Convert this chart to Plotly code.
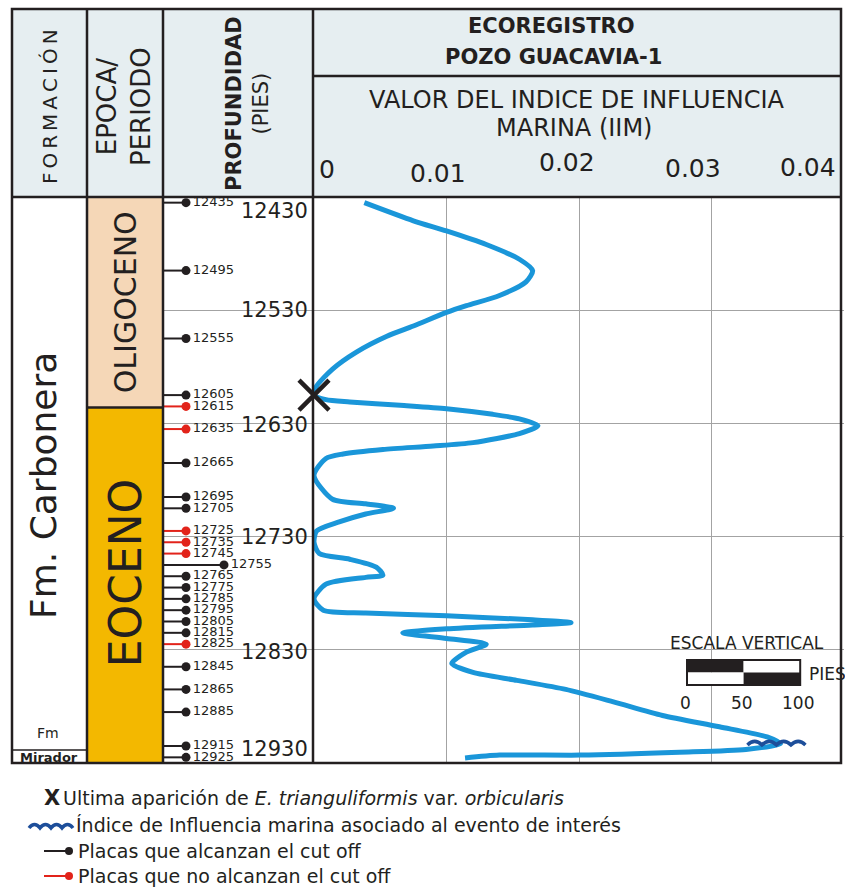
import plotly.graph_objects as go

W, H = 845, 888


def px(x):
    return x / W


def py(y):
    return 1 - y / H


# ---------------- data ----------------
iim_depth = [12435, 12451, 12460, 12472, 12485, 12495, 12505, 12517, 12526, 12532,
             12544, 12553, 12567, 12582, 12597, 12605, 12609, 12611, 12614, 12617,
             12622, 12626, 12632, 12639, 12647, 12650, 12653, 12657, 12661, 12676,
             12697, 12701, 12705, 12710, 12717, 12725, 12735, 12745, 12750, 12757,
             12764, 12766, 12772, 12785, 12795, 12797.5, 12800, 12803.5, 12806, 12808,
             12811.5, 12815, 12820, 12825, 12832, 12842, 12850, 12857, 12865, 12876,
             12888, 12898, 12907, 12913, 12918, 12920.5, 12923, 12923, 12925.5]
iim_value = [0.0038, 0.0075, 0.0100, 0.0130, 0.0155, 0.0165, 0.0160, 0.0140, 0.0115, 0.0100,
             0.0075, 0.0055, 0.0032, 0.0014, 0.0002, 0.0000, 0.0009, 0.0027, 0.0065, 0.0100,
             0.0135, 0.0155, 0.0169, 0.0155, 0.0120, 0.0090, 0.0052, 0.0022, 0.0009, 0.0000,
             0.0014, 0.0039, 0.0060, 0.0039, 0.0019, 0.0002, 0.0000, 0.0004, 0.0027, 0.0047,
             0.0052, 0.0039, 0.0009, 0.0000, 0.0007, 0.0039, 0.0100, 0.0165, 0.0194, 0.0165,
             0.0100, 0.0067, 0.0100, 0.0130, 0.0115, 0.0104, 0.0120, 0.0153, 0.0190, 0.0226,
             0.0263, 0.0306, 0.0342, 0.0352, 0.0326, 0.0276, 0.0201, 0.0140, 0.0114]

sample_depth = [12435, 12495, 12555, 12605, 12615, 12635, 12665, 12695, 12705, 12725,
                12735, 12745, 12755, 12765, 12775, 12785, 12795, 12805, 12815, 12825,
                12845, 12865, 12885, 12915, 12925]
sample_reaches_cutoff = [True, True, True, True, False, False, True, True, True, False,
                         False, False, True, True, True, True, True, True, True, False,
                         True, True, True, True, True]

depth_ticks = [12430, 12530, 12630, 12730, 12830, 12930]
depth_tick_labels = ["12430", "12530", "12630", "12730", "12830", "12930"]
iim_ticks = [0, 0.01, 0.02, 0.03, 0.04]
iim_tick_labels = ["0", "0.01", "0.02", "0.03", "0.04"]

epoch_names = ["OLIGOCENO", "EOCENO"]
epoch_top = [12430, 12616]
epoch_base = [12616, 12930]

last_appearance_depth = 12605
last_appearance_value = 0.0
event_depth = 12914
event_value = 0.0349

scale_values = [0, 50, 100]
scale_labels = ["0", "50", "100"]

# ---------------- styles ----------------
INK = "#231f20"
RED = "#e2231a"
BLUE = "#1a96d9"
DARKBLUE = "#1d4e9a"
GRID = "#a3a3a3"
HEAD_BG = "#e6eef1"
EPOCH_COLORS = ["#f5d7b7", "#f3b800"]
EPOCH_FONT = [30, 44]
EPOCH_YSHIFT = [0, 12]
FONT = "DejaVu Sans"
long_stick_depths = [12755]
tick_label_style = [  # (xanchor, xshift, y pixel)
    ("left", 3, 170), ("center", -9, 173), ("center", -12, 162),
    ("center", -19, 168), ("right", -6, 167)]

TOP, BOT, LEFT, RIGHT = 9, 763, 12, 841
HEAD_BOT, C1, C2, C3 = 197, 87, 163, 313
PX_PER_FT = (BOT - HEAD_BOT) / 500.0

fig = go.Figure()

# main IIM curve
fig.add_trace(go.Scatter(
    x=iim_value, y=iim_depth, mode="lines", xaxis="x", yaxis="y",
    line=dict(color=BLUE, width=5, shape="spline", smoothing=0.7),
    cliponaxis=False, hoverinfo="skip", showlegend=False))

# last appearance X
fig.add_trace(go.Scatter(
    x=[last_appearance_value], y=[last_appearance_depth], mode="markers",
    xaxis="x", yaxis="y",
    marker=dict(symbol="x-thin", size=30, color=INK, line=dict(width=4.5, color=INK)),
    cliponaxis=False, hoverinfo="skip", showlegend=False))

# sample sticks
for reached, color in [(True, INK), (False, RED)]:
    xs, ys, mx, my, mt = [], [], [], [], []
    for d, c in zip(sample_depth, sample_reaches_cutoff):
        if c != reached:
            continue
        L = 61 if d in long_stick_depths else 23
        xs += [0, L, None]
        ys += [d, d, None]
        mx.append(L)
        my.append(d)
        mt.append(str(d))
    fig.add_trace(go.Scatter(x=xs, y=ys, mode="lines", xaxis="x2", yaxis="y",
                             line=dict(color=color, width=2), hoverinfo="skip",
                             showlegend=False))
    fig.add_trace(go.Scatter(x=mx, y=my, mode="markers+text", xaxis="x2", yaxis="y",
                             marker=dict(color=color, size=9), text=mt,
                             textposition="middle right",
                             textfont=dict(family=FONT, size=13, color=INK),
                             hoverinfo="skip", showlegend=False))

shapes = []


def line(x0, y0, x1, y1, w=2.5, color=INK, xref="paper", yref="paper"):
    shapes.append(dict(type="line", xref=xref, yref=yref, x0=x0, y0=y0, x1=x1, y1=y1,
                       line=dict(color=color, width=w), layer="above"))


def pline(x0, y0, x1, y1, w=2.5, color=INK):
    line(px(x0), py(y0), px(x1), py(y1), w, color)


# header background
shapes.append(dict(type="rect", xref="paper", yref="paper", x0=px(LEFT), x1=px(RIGHT),
                   y0=py(HEAD_BOT), y1=py(TOP), fillcolor=HEAD_BG, line=dict(width=0),
                   layer="below"))
# epoch blocks
for name, t, b, col in zip(epoch_names, epoch_top, epoch_base, EPOCH_COLORS):
    shapes.append(dict(type="rect", xref="paper", yref="y", x0=px(C1), x1=px(C2),
                       y0=t, y1=b, fillcolor=col, line=dict(width=0), layer="below"))
line(px(C1), epoch_base[0], px(C2), epoch_base[0], 2.5, INK, "paper", "y")

# frame
shapes.append(dict(type="rect", xref="paper", yref="paper", x0=px(LEFT), x1=px(RIGHT),
                   y0=py(BOT), y1=py(TOP), line=dict(color=INK, width=2.5), layer="above"))
for xc in (C1, C2, C3):
    pline(xc, TOP, xc, BOT)
pline(LEFT, HEAD_BOT, RIGHT, HEAD_BOT)
pline(C3, 76, RIGHT, 76)
pline(LEFT, 750, C1, 750, 1.5)

# event wave on chart (pixel path anchored at data point)
n_b, w_b, h_b = 4, 14.5, 3.5
s = f"M{-n_b * w_b / 2},0"
for i in range(n_b):
    xa = -n_b * w_b / 2 + i * w_b
    s += f" Q{xa + w_b / 2},{2 * h_b} {xa + w_b},0"
shapes.append(dict(type="path", xref="x", yref="y", xsizemode="pixel", ysizemode="pixel",
                   xanchor=event_value, yanchor=event_depth, path=s,
                   line=dict(color=DARKBLUE, width=3.5), layer="above"))


def wave_path(x0, y0, n, w, h):
    p = f"M{px(x0)},{py(y0)}"
    for i in range(n):
        xa = x0 + i * w
        p += f" Q{px(xa + w / 2)},{py(y0 - 2 * h)} {px(xa + w)},{py(y0)}"
    return p


# legend symbols
shapes.append(dict(type="path", xref="paper", yref="paper", path=wave_path(29, 828, 4, 11, 3.5),
                   line=dict(color=DARKBLUE, width=3.5), layer="above"))
for yy, col in [(851, INK), (876, RED)]:
    pline(44, yy, 67, yy, 2, col)
    shapes.append(dict(type="circle", xref="paper", yref="paper",
                       x0=px(65), x1=px(73), y0=py(yy + 4), y1=py(yy - 4),
                       fillcolor=col, line=dict(width=0), layer="above"))

# vertical scale bar
SB_X0, SB_Y0, SB_Y1 = 687, 660, 685
SB_MID = (SB_Y0 + SB_Y1) / 2
for i in range(len(scale_values) - 1):
    xa = SB_X0 + scale_values[i] * PX_PER_FT
    xb = SB_X0 + scale_values[i + 1] * PX_PER_FT
    top_black = (i % 2 == 0)
    shapes.append(dict(type="rect", xref="paper", yref="paper", x0=px(xa), x1=px(xb),
                       y0=py(SB_MID), y1=py(SB_Y0),
                       fillcolor=INK if top_black else "white", line=dict(width=0),
                       layer="above"))
    shapes.append(dict(type="rect", xref="paper", yref="paper", x0=px(xa), x1=px(xb),
                       y0=py(SB_Y1), y1=py(SB_MID),
                       fillcolor="white" if top_black else INK, line=dict(width=0),
                       layer="above"))
shapes.append(dict(type="rect", xref="paper", yref="paper", x0=px(SB_X0),
                   x1=px(SB_X0 + scale_values[-1] * PX_PER_FT), y0=py(SB_Y1), y1=py(SB_Y0),
                   line=dict(color=INK, width=2), layer="above"))

annotations = []


def ann(text, x, y, size, angle=0, xanchor="center", yanchor="middle", color=INK,
        family=FONT, xref="paper", yref="paper", xshift=0, yshift=0):
    annotations.append(dict(text=text, x=x, y=y, xref=xref, yref=yref, showarrow=False,
                            font=dict(family=family, size=size, color=color),
                            textangle=angle, xanchor=xanchor, yanchor=yanchor,
                            xshift=xshift, yshift=yshift, align="center"))


# column headers
ann("\u2009".join("FORMACIÓN"), px(50), py(107), 20, -90)
ann("EPOCA/<br>PERIODO", px(124), py(106), 26, -90)
ann("<b>PROFUNDIDAD</b><br>(PIES)", px(247), py(104), 21, -90)
ann("<b>ECOREGISTRO</b>", px(551), py(26), 21)
ann("<b>POZO GUACAVIA-1</b>", px(553), py(57), 21)
ann("VALOR DEL INDICE DE INFLUENCIA", px(577), py(100), 24)
ann("MARINA (IIM)", px(574), py(128), 24)

# IIM tick labels
for v, lab, (xa, xs, yp) in zip(iim_ticks, iim_tick_labels, tick_label_style):
    ann(lab, v, py(yp), 25, xanchor=xa, xref="x", xshift=xs)

# depth tick labels
for i, (d, lab) in enumerate(zip(depth_ticks, depth_tick_labels)):
    ya = "top" if i == 0 else ("bottom" if i == len(depth_ticks) - 1 else "middle")
    ann(lab, px(310), d, 21, xanchor="right", yanchor=ya, yref="y",
        yshift=(-2 if i in (2, 4) else 0))

# formation / epoch labels
ann("Fm. Carbonera", px(44), py(486), 36, -90)
ann("Fm", px(48), py(733), 14)
ann("<b>Mirador</b>", px(49), py(757), 13)
for name, t, b, size, ys in zip(epoch_names, epoch_top, epoch_base, EPOCH_FONT, EPOCH_YSHIFT):
    ann(name, px(125), (t + b) / 2, size, -90, yref="y", yshift=ys)

# vertical scale text
ann("ESCALA VERTICAL", px(747), py(643), 17)
ann("PIES", px(807), py(674), 17, xanchor="left")
for v, lab in zip(scale_values, scale_labels):
    ann(lab, px(SB_X0 + v * PX_PER_FT - 2), py(703), 17)

# legend
ann("<b>X</b>", px(52), py(798), 21)
ann("Ultima aparición de <i>E. trianguliformis</i> var. <i>orbicularis</i>", px(61), py(798), 19,
    xanchor="left")
ann("Índice de Influencia marina asociado al evento de interés", px(74), py(825), 19,
    xanchor="left")
ann("Placas que alcanzan el cut off", px(76), py(851), 19, xanchor="left")
ann("Placas que no alcanzan el cut off", px(76), py(876), 19, xanchor="left")

fig.update_layout(
    width=W, height=H, autosize=False,
    margin=dict(l=0, r=0, t=0, b=0, pad=0),
    paper_bgcolor="white", plot_bgcolor="rgba(0,0,0,0)",
    showlegend=False,
    xaxis=dict(domain=[px(C3 + 1), px(844)], range=[0, 0.04], anchor="y",
               tickvals=iim_ticks[1:-1], showticklabels=False, ticks="",
               showgrid=True, gridcolor=GRID, gridwidth=1.3, zeroline=False,
               showline=False, fixedrange=True),
    xaxis2=dict(domain=[px(C2), px(C3)], range=[0, 150], anchor="y", visible=False,
                fixedrange=True),
    yaxis=dict(domain=[py(BOT), py(HEAD_BOT)], range=[depth_ticks[-1], depth_ticks[0]],
               anchor="x", tickvals=depth_ticks[1:-1], showticklabels=False,
               ticks="outside", ticklen=4, tickcolor=GRID, showgrid=True,
               gridcolor=GRID, gridwidth=1.3, zeroline=False, showline=False,
               fixedrange=True),
    shapes=shapes,
    annotations=annotations,
)

fig.write_html("out.html")
